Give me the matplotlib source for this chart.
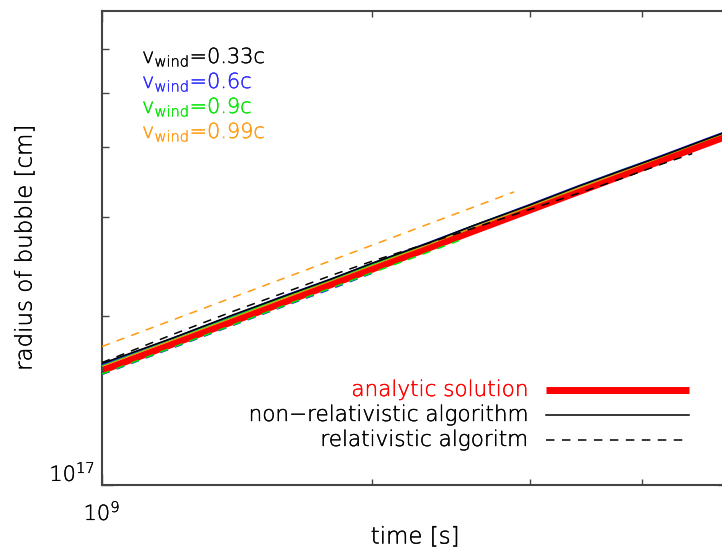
import matplotlib
matplotlib.use('Agg')
import matplotlib.pyplot as plt
from matplotlib.lines import Line2D
from matplotlib import font_manager as fm
import matplotlib.patheffects as pe

# ---------------- data (time in units of 1e9 s, radius in units of 1e17 cm) ----------------
t_grid = [1.0, 1.2, 1.4, 1.6, 1.8, 2.0, 2.3, 2.6, 3.0, 3.4, 3.8, 4.2, 4.6, 5.0]

r_analytic = [1.600, 1.785, 1.958, 2.121, 2.277, 2.425, 2.637, 2.839, 3.093, 3.334, 3.564, 3.785, 3.998, 4.202]

# non-relativistic algorithm (solid)
r_nonrel_033 = [1.647, 1.829, 2.011, 2.174, 2.329, 2.485, 2.692, 2.904, 3.157, 3.410, 3.638, 3.855, 4.072, 4.280]
r_nonrel_06 = [1.640, 1.829, 2.007, 2.178, 2.329, 2.485, 2.697, 2.904, 3.164, 3.417, 3.645, 3.863, 4.081, 4.289]
r_nonrel_09 = [1.636, 1.826, 1.999, 2.169, 2.324, 2.475, 2.692, 2.904, 3.157, 3.410, 3.645, 3.855, 4.072, 4.280]
r_nonrel_099 = [1.630, 1.815, 1.990, 2.156, 2.314, 2.465, 2.676, 2.882, 3.140, 3.385, 3.619, 3.843, 4.060, 4.267]

# relativistic algorithm (dashed)
t_rel_033 = [1.0, 1.2, 1.4, 1.6, 1.8, 2.0, 2.3, 2.6, 3.0, 3.4, 3.8, 4.2, 4.55]
r_rel_033 = [1.653, 1.856, 2.040, 2.205, 2.363, 2.506, 2.692, 2.874, 3.100, 3.314, 3.521, 3.731, 3.898]
t_rel_06 = [1.0, 1.2, 1.4, 1.6, 1.8, 2.0]
r_rel_06 = [1.574, 1.756, 1.926, 2.086, 2.235, 2.385]
t_rel_09 = [1.0, 1.2, 1.4, 1.6, 1.8, 2.0, 2.3, 2.5]
r_rel_09 = [1.577, 1.760, 1.930, 2.091, 2.244, 2.390, 2.594, 2.728]
t_rel_099 = [1.0, 1.4, 2.0, 2.5, 2.88]
r_rel_099 = [1.766, 2.161, 2.676, 3.060, 3.331]

wind_labels = ['0.33c', '0.6c', '0.9c', '0.99c']
legend_labels = ['analytic solution', 'non\u2212relativistic algorithm', 'relativistic algoritm']
x_tick_labels = [r'10$^{9}$']
y_tick_labels = [r'10$^{17}$']

T_UNIT = 1e9
R_UNIT = 1e17

# ---------------- font: pick a light sans face if one is installed ----------------
def pick_light_font():
    cands = ['DejaVu Sans', 'Noto Sans', 'Open Sans', 'Lato', 'Roboto', 'Inter']
    wnames = {100: 'thin', 200: 'extralight', 300: 'light'}
    for fam in cands:
        found = {}
        for f in fm.fontManager.ttflist:
            if f.name != fam or f.style != 'normal':
                continue
            if 'ondensed' in f.fname or 'arrow' in f.fname:
                continue
            w = f.weight if isinstance(f.weight, int) else fm.weight_dict.get(f.weight, 400)
            if w in (200, 300):
                found[w] = f.fname
        if 300 in found:
            return fam, 300, wnames[300]
        if 200 in found:
            return fam, 200, wnames[200]
    return 'DejaVu Sans', 400, 'normal'

FAM, WNUM, WNAME = pick_light_font()
plt.rcParams['font.family'] = [FAM, 'DejaVu Sans']
plt.rcParams['font.weight'] = WNUM
plt.rcParams['axes.labelweight'] = WNUM
if WNUM != 400:
    plt.rcParams['mathtext.fontset'] = 'custom'
    plt.rcParams['mathtext.rm'] = f'{FAM}:{WNAME}'
    plt.rcParams['mathtext.it'] = f'{FAM}:{WNAME}'
    plt.rcParams['mathtext.bf'] = f'{FAM}:{WNAME}'
    plt.rcParams['mathtext.sf'] = f'{FAM}:{WNAME}'
else:
    plt.rcParams['mathtext.fontset'] = 'dejavusans'
plt.rcParams['lines.scale_dashes'] = False

FS = 15
FS_LAB = 16.5
FS_LEG = 15.5
W, H = 722, 554
col_black = '#000000'
col_blue = '#2a2aff'
col_green = '#00e600'
col_orange = '#ff9a10'
col_orange_line = '#d8a010'
col_red = '#ff0000'
spine_col = '#444444'
dash = (6.0, 5.2)
STROKE = 0.25 if WNUM != 400 else 0.0

def thick(c):
    return [pe.withStroke(linewidth=STROKE, foreground=c)]

fig = plt.figure(figsize=(W / 100, H / 100), dpi=100)
ax_left, ax_right, ax_top, ax_bot = 102, 729, 11, 485
ax = fig.add_axes([ax_left / W, (H - ax_bot) / H, (ax_right - ax_left) / W, (ax_bot - ax_top) / H])
ax.set_xscale('log')
ax.set_yscale('log')

def tt(a):
    return [v * T_UNIT for v in a]

def rr(a):
    return [v * R_UNIT for v in a]

ax.plot(tt(t_grid), rr(r_analytic), color=col_red, lw=5.0, solid_capstyle='butt', zorder=2)

lw_s = 1.1
ax.plot(tt(t_grid), rr(r_nonrel_099), color=col_orange_line, lw=lw_s, zorder=3)
ax.plot(tt(t_grid), rr(r_nonrel_09), color=col_green, lw=lw_s, zorder=3)
ax.plot(tt(t_grid), rr(r_nonrel_06), color=col_blue, lw=lw_s, zorder=3)
ax.plot(tt(t_grid), rr(r_nonrel_033), color=col_black, lw=lw_s, zorder=4)

ax.plot(tt(t_rel_06), rr(r_rel_06), color=col_blue, lw=lw_s, dashes=dash, zorder=3)
ax.plot(tt(t_rel_09), rr(r_rel_09), color=col_green, lw=lw_s, dashes=dash, zorder=3)
ax.plot(tt(t_rel_099), rr(r_rel_099), color=col_orange, lw=lw_s, dashes=dash, zorder=3)
ax.plot(tt(t_rel_033), rr(r_rel_033), color=col_black, lw=lw_s, dashes=dash, zorder=4)

ax.set_xlim(1e9, 5e9)
ax.set_ylim(1e17, 7e17)

ax.set_xticks([1e9])
ax.set_xticklabels(x_tick_labels)
ax.set_xticks([2e9, 3e9, 4e9], minor=True)
ax.set_xticklabels([], minor=True)
ax.set_yticks([1e17])
ax.set_yticklabels(y_tick_labels)
ax.set_yticks([2e17, 3e17, 4e17, 5e17, 6e17], minor=True)
ax.set_yticklabels([], minor=True)

ax.tick_params(axis='x', which='both', direction='in', top=True, bottom=True,
               color=spine_col, width=1.0, labelsize=FS, pad=10)
ax.tick_params(axis='x', which='minor', length=4.5)
ax.tick_params(axis='x', which='major', length=8)
ax.tick_params(axis='y', which='both', direction='in', left=True, right=True,
               color=spine_col, width=1.0, labelsize=FS, pad=5)
ax.tick_params(axis='y', which='minor', length=5)
ax.tick_params(axis='y', which='major', length=8)
for lab in ax.get_yticklabels():
    lab.set_verticalalignment('bottom')
    lab.set_path_effects(thick('black'))
for lab in ax.get_xticklabels():
    lab.set_path_effects(thick('black'))
for sp in ax.spines.values():
    sp.set_color(spine_col)
    sp.set_linewidth(1.5)

ax.set_xlabel('time [s]', fontsize=FS_LAB, labelpad=14, path_effects=thick('black'))
ax.set_ylabel('radius of bubble [cm]', fontsize=FS_LAB, labelpad=14, path_effects=thick('black'))
ax.xaxis.set_label_coords((415 - ax_left) / (ax_right - ax_left), -(537 - ax_bot) / (ax_bot - ax_top))
ax.yaxis.set_label_coords(-(ax_left - 25) / (ax_right - ax_left), (ax_bot - 248) / (ax_bot - ax_top))
ax.xaxis.label.set_verticalalignment('center')
ax.yaxis.label.set_verticalalignment('center')

# wind speed annotations (top-left)
wind_cols = [col_black, col_blue, col_green, col_orange]
for i, (lab, c) in enumerate(zip(wind_labels, wind_cols)):
    y_px = 57 + 25 * i
    fig.text(142 / W, 1 - y_px / H, r'v$_{\rm wind}$=' + lab, color=c, fontsize=FS,
             ha='left', va='center', path_effects=thick(c))

# legend (bottom-right)
leg_styles = [dict(color=col_red, lw=5.0, solid_capstyle='butt'),
              dict(color=col_black, lw=1.1),
              dict(color=col_black, lw=1.1, dashes=(6.1, 5.4))]
leg_text_cols = [col_red, col_black, col_black]
for i, (lab, st, tc) in enumerate(zip(legend_labels, leg_styles, leg_text_cols)):
    y_px = 390 + 25 * i
    fig.text(528 / W, 1 - y_px / H, lab, color=tc, fontsize=FS_LEG, ha='right', va='center',
             path_effects=thick(tc))
    fig.add_artist(Line2D([546 / W, 689 / W], [1 - y_px / H, 1 - y_px / H],
                          transform=fig.transFigure, **st))

fig.savefig('out.png', dpi=100)
